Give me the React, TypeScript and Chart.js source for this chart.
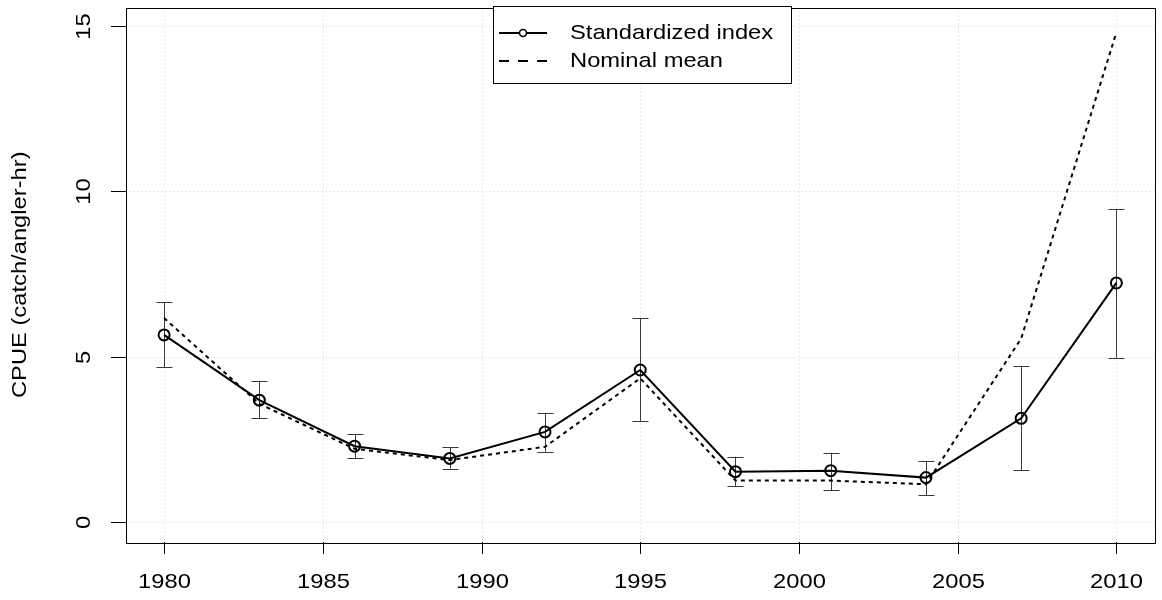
import React, { useEffect, useRef } from "react";
import { Chart, registerables } from "chart.js";

Chart.register(...registerables);

const years = [1980, 1983, 1986, 1989, 1992, 1995, 1998, 2001, 2004, 2007, 2010];
const standardized = [5.66, 3.69, 2.3, 1.93, 2.73, 4.6, 1.53, 1.56, 1.35, 3.14, 7.23];
const ciLower = [4.69, 3.15, 1.93, 1.62, 2.13, 3.06, 1.1, 0.97, 0.82, 1.58, 4.97];
const ciUpper = [6.65, 4.27, 2.66, 2.26, 3.31, 6.17, 1.98, 2.1, 1.85, 4.73, 9.45];
const nominal = [6.17, 3.58, 2.22, 1.88, 2.28, 4.35, 1.26, 1.26, 1.15, 5.55, 14.8];

const xTicks = [1980, 1985, 1990, 1995, 2000, 2005, 2010];
const yTicks = [0, 5, 10, 15];
const yTitle = "CPUE (catch/angler-hr)";
const legendLabels = ["Standardized index", "Nominal mean"];

const FONT = '21px "Liberation Sans", Arial, sans-serif';
const SX = 1.13;

function drawText(ctx: CanvasRenderingContext2D, text: string, x: number, y: number, rot: number, align: CanvasTextAlign = "center") {
  ctx.save();
  ctx.translate(x, y);
  ctx.rotate(rot);
  ctx.scale(SX, 1);
  ctx.font = FONT;
  ctx.fillStyle = "#000";
  ctx.textAlign = align;
  ctx.textBaseline = "middle";
  ctx.fillText(text, 0, 0);
  ctx.restore();
}

const rPlot = {
  id: "rPlot",
  beforeDatasetsDraw(chart: any) {
    const { ctx, chartArea: a, scales } = chart;
    const xs = scales.x;
    const ys = scales.y;
    ctx.save();
    // grid
    ctx.strokeStyle = "#d3d3d3";
    ctx.lineWidth = 1;
    ctx.setLineDash([1, 3]);
    xTicks.forEach((t) => {
      const px = Math.round(xs.getPixelForValue(t)) + 0.5;
      ctx.beginPath();
      ctx.moveTo(px, a.top);
      ctx.lineTo(px, a.bottom);
      ctx.stroke();
    });
    yTicks.forEach((t) => {
      const py = Math.round(ys.getPixelForValue(t)) + 0.5;
      ctx.beginPath();
      ctx.moveTo(a.left, py);
      ctx.lineTo(a.right, py);
      ctx.stroke();
    });
    ctx.setLineDash([]);
    // error bars
    ctx.strokeStyle = "#3a3a3a";
    ctx.lineWidth = 1;
    years.forEach((yr, i) => {
      const px = Math.round(xs.getPixelForValue(yr)) + 0.5;
      const lo = ys.getPixelForValue(ciLower[i]);
      const hi = ys.getPixelForValue(ciUpper[i]);
      ctx.beginPath();
      ctx.moveTo(px, lo);
      ctx.lineTo(px, hi);
      ctx.moveTo(px - 8, Math.round(lo) + 0.5);
      ctx.lineTo(px + 8, Math.round(lo) + 0.5);
      ctx.moveTo(px - 8, Math.round(hi) + 0.5);
      ctx.lineTo(px + 8, Math.round(hi) + 0.5);
      ctx.stroke();
    });
    ctx.restore();
  },
  afterDraw(chart: any) {
    const { ctx, chartArea: a, scales } = chart;
    const xs = scales.x;
    const ys = scales.y;
    ctx.save();
    ctx.strokeStyle = "#000";
    ctx.lineWidth = 1;
    // box
    ctx.strokeRect(Math.round(a.left) + 0.5, Math.round(a.top) + 0.5, Math.round(a.right - a.left), Math.round(a.bottom - a.top));
    // x ticks
    xTicks.forEach((t) => {
      const px = Math.round(xs.getPixelForValue(t)) + 0.5;
      ctx.beginPath();
      ctx.moveTo(px, a.bottom);
      ctx.lineTo(px, a.bottom + 12);
      ctx.stroke();
      drawText(ctx, String(t), px, 582, 0);
    });
    // y ticks
    yTicks.forEach((t) => {
      const py = Math.round(ys.getPixelForValue(t)) + 0.5;
      ctx.beginPath();
      ctx.moveTo(a.left - 15, py);
      ctx.lineTo(a.left, py);
      ctx.stroke();
      drawText(ctx, String(t), 84, py, -Math.PI / 2);
    });
    // y title
    drawText(ctx, yTitle, 20, (a.top + a.bottom) / 2, -Math.PI / 2);

    // legend
    const lx = 493.5, ly = 6.5, lw = 298, lh = 77;
    ctx.fillStyle = "#fff";
    ctx.fillRect(lx, ly, lw, lh);
    ctx.strokeStyle = "#000";
    ctx.lineWidth = 1;
    ctx.strokeRect(lx, ly, lw, lh);
    const row1 = 33, row2 = 61;
    ctx.lineWidth = 2;
    ctx.beginPath();
    ctx.moveTo(499, row1);
    ctx.lineTo(547, row1);
    ctx.stroke();
    ctx.fillStyle = "#fff";
    ctx.beginPath();
    ctx.arc(523, row1, 3.5, 0, Math.PI * 2);
    ctx.fill();
    ctx.lineWidth = 1.6;
    ctx.stroke();
    ctx.lineWidth = 2;
    ctx.setLineDash([10, 9]);
    ctx.beginPath();
    ctx.moveTo(499, row2);
    ctx.lineTo(547, row2);
    ctx.stroke();
    ctx.setLineDash([]);
    drawText(ctx, legendLabels[0], 570, row1, 0, "left");
    drawText(ctx, legendLabels[1], 570, row2, 0, "left");
    ctx.restore();
  },
};

export default function App() {
  const ref = useRef<HTMLCanvasElement | null>(null);
  useEffect(() => {
    if (!ref.current) return;
    const chart = new Chart(ref.current, {
      type: "line",
      data: {
        datasets: [
          {
            label: legendLabels[0],
            data: years.map((x, i) => ({ x, y: standardized[i] })),
            borderColor: "#000",
            borderWidth: 2,
            pointRadius: 5.5,
            pointBorderWidth: 2,
            pointBackgroundColor: "rgba(0,0,0,0)",
            pointBorderColor: "#000",
            tension: 0,
          },
          {
            label: legendLabels[1],
            data: years.map((x, i) => ({ x, y: nominal[i] })),
            borderColor: "#000",
            borderWidth: 2,
            borderDash: [4, 4],
            pointRadius: 0,
            tension: 0,
          },
        ],
      },
      options: {
        animation: false,
        responsive: false,
        events: [],
        layout: { padding: { left: 126, top: 7, right: 2, bottom: 58 } },
        plugins: { legend: { display: false }, tooltip: { enabled: false } },
        scales: {
          x: { type: "linear", min: 1978.8, max: 2011.2, display: false },
          y: { type: "linear", min: -0.595, max: 15.55, display: false },
        },
      },
      plugins: [rPlot],
    });
    return () => chart.destroy();
  }, []);
  return (
    <div style={{ position: "absolute", left: 0, top: 0, width: 1162, height: 600, background: "#fff" }}>
      <canvas ref={ref} width={1162} height={600} style={{ display: "block" }} />
    </div>
  );
}
